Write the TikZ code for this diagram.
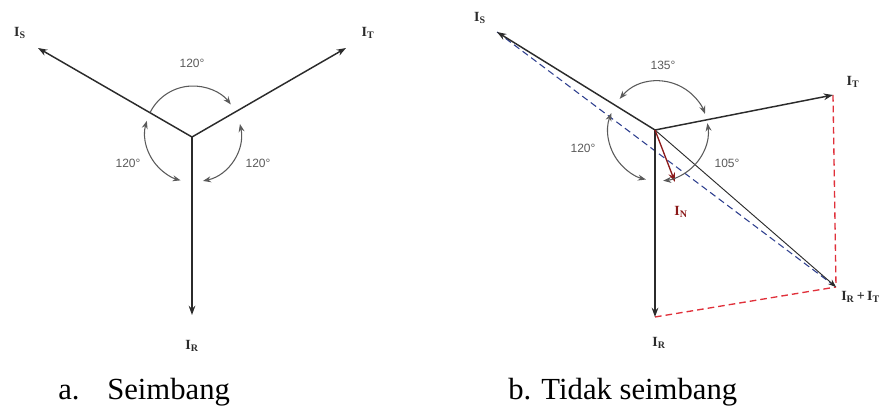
\documentclass[tikz,border=0pt]{standalone}
\usepackage{fontspec}
\setmainfont{Liberation Serif}
\newfontfamily\angfont{Liberation Sans}
\newfontfamily\capfont{Liberation Serif}
\usetikzlibrary{arrows.meta}
\definecolor{vec}{HTML}{2B2B2B}
\definecolor{arcg}{HTML}{5A5A5A}
\definecolor{redd}{HTML}{E0303A}
\definecolor{blued}{HTML}{2E3F8F}
\definecolor{inred}{HTML}{8B1A1A}
\tikzset{
  vecline/.style={draw=vec, line width=1.1pt, -{Stealth[length=7pt,width=5pt]}},
  angarc/.style={draw=arcg, line width=0.8pt},
  endtip/.style={-{Stealth[length=6pt,width=4.5pt]}},
  bothtips/.style={{Stealth[length=6pt,width=4.5pt]}-{Stealth[length=6pt,width=4.5pt]}},
  vlab/.style={font=\capfont\fontsize{10.5}{10.5}\selectfont\bfseries, text=vec, inner sep=0pt},
  alab/.style={font=\angfont\fontsize{9}{9}\selectfont, text=arcg, inner sep=0pt},
  captext/.style={font=\capfont\fontsize{23}{23}\selectfont, inner sep=0pt, anchor=base west},
  reddash/.style={draw=redd, line width=1pt, dash pattern=on 5pt off 3pt},
  bluedash/.style={draw=blued, line width=0.8pt, dash pattern=on 5pt off 3pt},
}
\newcommand{\Isub}[1]{I\textsubscript{\fontsize{7.5}{7.5}\selectfont\bfseries #1}}
\begin{document}
\begin{tikzpicture}[x=0.75pt,y=0.75pt]
\useasboundingbox (0,0) rectangle (893,408);
% ---------- left: balanced ----------
\coordinate (O1) at (192,271);
\coordinate (S1) at (38,360);
\coordinate (T1) at (346,360);
\coordinate (R1) at (192,93);
\draw[vecline] (O1) -- (S1);
\draw[vecline] (O1) -- (T1);
\draw[vecline] (O1) -- (R1);
\coordinate (C1) at (193,274);
\draw[angarc, endtip] ([shift={(153:48)}]C1) arc[start angle=153, end angle=38, radius=48];
\draw[angarc, bothtips] ([shift={(12:48)}]C1) arc[start angle=12, end angle=-78, radius=48];
\draw[angarc, bothtips] ([shift={(164:48)}]C1) arc[start angle=164, end angle=255, radius=48];
\node[vlab] (lS1) at (20,375) {\Isub{S}};
\node[vlab] (lT1) at (368,375) {\Isub{T}};
\node[vlab] (lR1) at (192,62) {\Isub{R}};
\node[alab] (a1) at (192,345) {120°};
\node[alab] (a2) at (128,245) {120°};
\node[alab] (a3) at (258,245) {120°};
% ---------- right: unbalanced ----------
\coordinate (O2) at (655,278);
\coordinate (S2) at (497,376);
\coordinate (T2) at (833,313);
\coordinate (R2) at (655,91);
\coordinate (RT) at (836,121);
\coordinate (N2) at (675,226);
\draw[reddash] (T2) -- (RT);
\draw[reddash] (R2) -- (RT);
\draw[bluedash] (S2) -- (RT);
\draw[draw=vec, line width=0.7pt, -{Stealth[length=6pt,width=4.5pt]}] (O2) -- (RT);
\draw[vecline] (O2) -- (S2);
\draw[vecline] (O2) -- (T2);
\draw[vecline] (O2) -- (R2);
\draw[draw=inred, line width=1pt, -{Stealth[length=7pt,width=5pt]}] (O2) -- (N2);
\coordinate (C2) at (658,277);
\draw[angarc, bothtips] ([shift={(140:50)}]C2) arc[start angle=140, end angle=20, radius=50];
\draw[angarc, bothtips] ([shift={(159:50)}]C2) arc[start angle=159, end angle=256, radius=50];
\draw[angarc, bothtips] ([shift={(9:50)}]C2) arc[start angle=9, end angle=-84, radius=50];
\node[vlab] (lS2) at (480,390) {\Isub{S}};
\node[vlab] (lT2) at (853,326) {\Isub{T}};
\node[vlab] (lR2) at (659,65) {\Isub{R}};
\node[vlab, anchor=west] (lRT) at (841,111) {\Isub{R}\,+\,\Isub{T}};
\node[vlab, text=inred] (lN2) at (681,196) {\Isub{N}};
\node[alab] (b1) at (663,343) {135°};
\node[alab] (b2) at (583,260) {120°};
\node[alab] (b3) at (727,245) {105°};
% ---------- captions ----------
\node[captext] (ca) at (58,9) {a.};
\node[captext] (cb) at (107,9) {Seimbang};
\node[captext] (cc) at (508,9) {b. Tidak seimbang};
\end{tikzpicture}
\end{document}
